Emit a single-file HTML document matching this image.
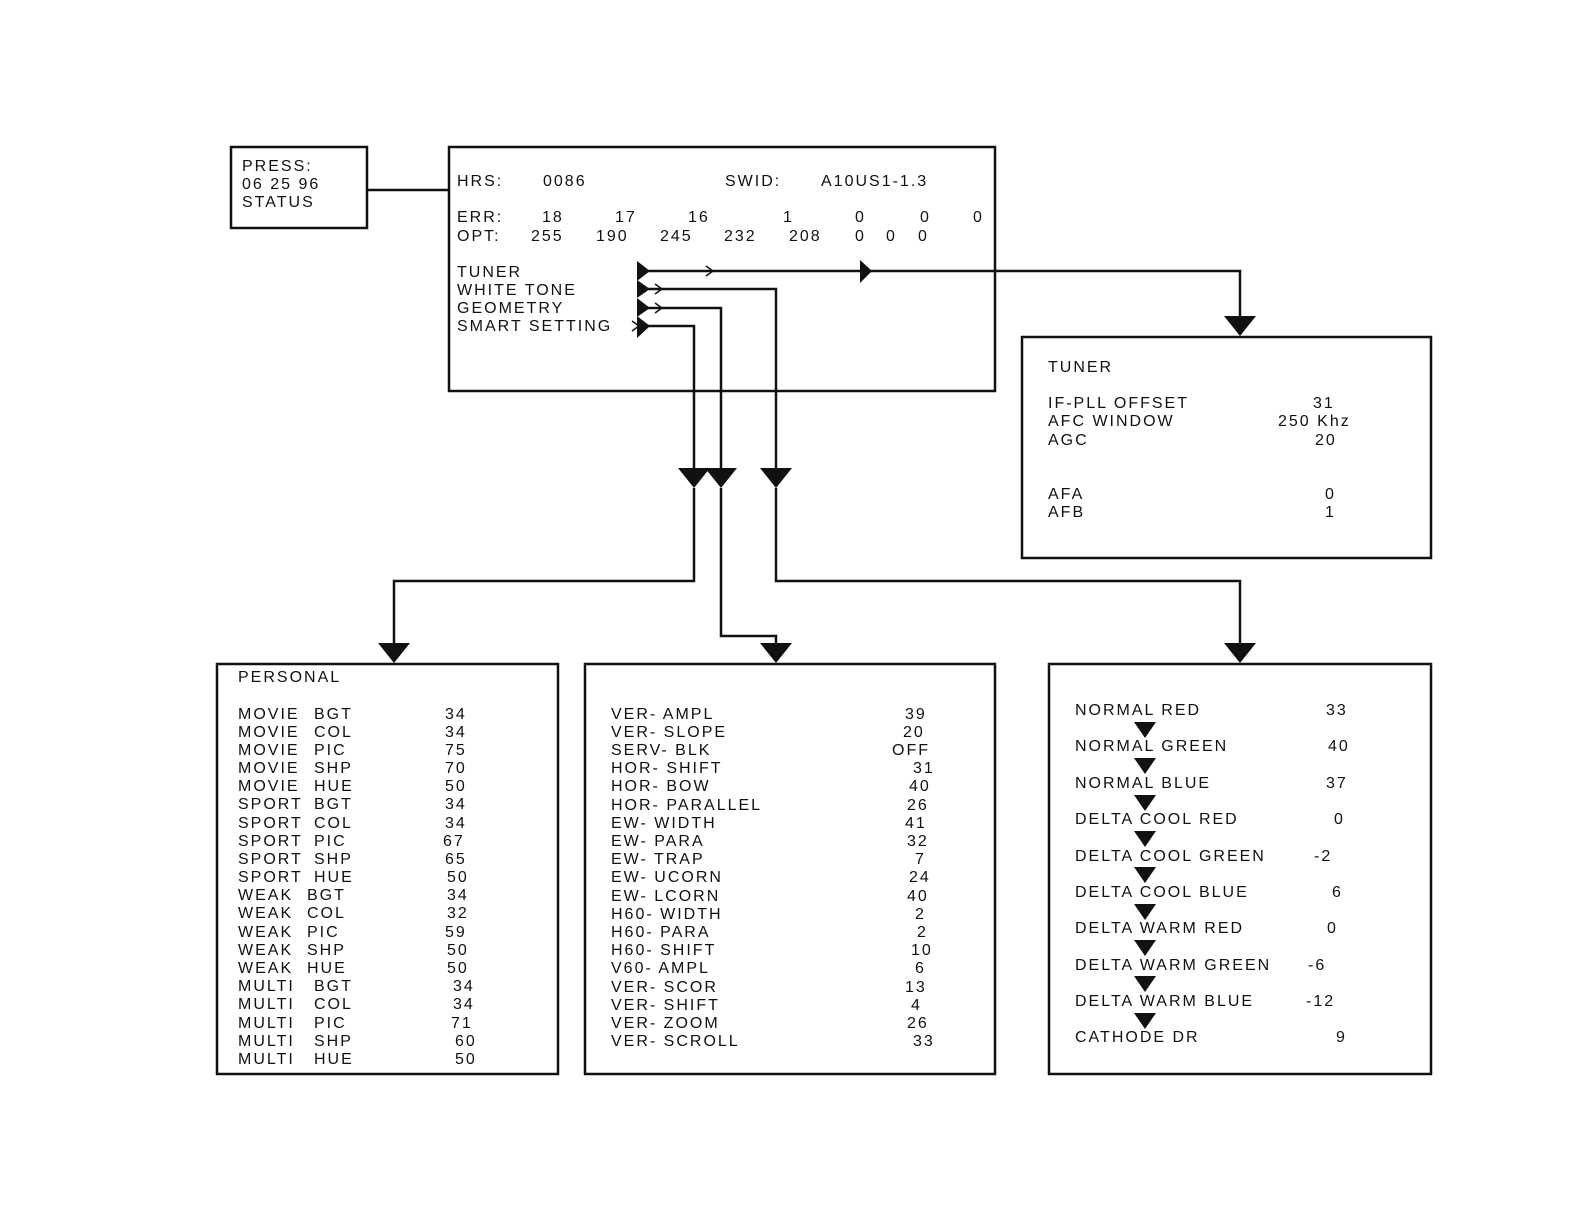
<!DOCTYPE html>
<html><head><meta charset="utf-8"><style>
html,body{margin:0;padding:0;background:#fff;}
svg{display:block;}
text{font-family:"Liberation Sans",sans-serif;font-size:16px;letter-spacing:2px;fill:#111;}
</style></head><body>
<svg width="1584" height="1224" viewBox="0 0 1584 1224" xmlns="http://www.w3.org/2000/svg">
<g fill="none" stroke="#111" stroke-width="2.5">
<rect x="231" y="147" width="136" height="81"/>
<rect x="449" y="147" width="546" height="244"/>
<rect x="1022" y="337" width="409" height="221"/>
<rect x="217" y="664" width="341" height="410"/>
<rect x="585" y="664" width="410" height="410"/>
<rect x="1049" y="664" width="382" height="410"/>
<line x1="367" y1="190" x2="449" y2="190"/>
<polyline points="640,271 1240,271 1240,320"/>
<polyline points="640,289 776,289 776,468"/>
<polyline points="640,308 721,308 721,468"/>
<polyline points="640,326 694,326 694,468"/>
<polyline points="694,488 694,581 394,581 394,645"/>
<polyline points="721,488 721,636 776,636 776,645"/>
<polyline points="776,488 776,581 1240,581 1240,645"/>
<polyline stroke-width="1.5" points="706,266 713,271 706,276"/>
<polyline stroke-width="1.5" points="655,284 662,289 655,294"/>
<polyline stroke-width="1.5" points="655,303 662,308 655,313"/>
<polyline stroke-width="1.5" points="632,321 639,326 632,331"/>
</g>
<g fill="#111">
<polygon points="637,261 650,271 637,281"/>
<polygon points="637,280 650,289 637,298"/>
<polygon points="637,298 650,308 637,317"/>
<polygon points="637,316 650,326 637,338"/>
<polygon points="860,260 872,271 860,283"/>
<polygon points="1224,316 1256,316 1240,336"/>
<polygon points="678,468 710,468 694,488"/>
<polygon points="705,468 737,468 721,488"/>
<polygon points="760,468 792,468 776,488"/>
<polygon points="378,643 410,643 394,663"/>
<polygon points="760,643 792,643 776,663"/>
<polygon points="1224,643 1256,643 1240,663"/>
<polygon points="1134,722 1156,722 1145,738"/>
<polygon points="1134,758 1156,758 1145,774"/>
<polygon points="1134,795 1156,795 1145,811"/>
<polygon points="1134,831 1156,831 1145,847"/>
<polygon points="1134,867 1156,867 1145,883"/>
<polygon points="1134,904 1156,904 1145,920"/>
<polygon points="1134,940 1156,940 1145,956"/>
<polygon points="1134,976 1156,976 1145,992"/>
<polygon points="1134,1013 1156,1013 1145,1029"/>
</g>
<text x="242" y="171">PRESS:</text>
<text x="242" y="189">06 25 96</text>
<text x="242" y="207">STATUS</text>
<text x="457" y="186">HRS:</text><text x="543" y="186">0086</text>
<text x="725" y="186">SWID:</text><text x="821" y="186">A10US1-1.3</text>
<text x="457" y="222">ERR:</text><text x="542" y="222">18</text><text x="615" y="222">17</text><text x="688" y="222">16</text><text x="783" y="222">1</text><text x="855" y="222">0</text><text x="920" y="222">0</text><text x="973" y="222">0</text>
<text x="457" y="241">OPT:</text><text x="531" y="241">255</text><text x="596" y="241">190</text><text x="660" y="241">245</text><text x="724" y="241">232</text><text x="789" y="241">208</text><text x="855" y="241">0</text><text x="886" y="241">0</text><text x="918" y="241">0</text>
<text x="457" y="277">TUNER</text>
<text x="457" y="295">WHITE TONE</text>
<text x="457" y="313">GEOMETRY</text>
<text x="457" y="331">SMART SETTING</text>
<text x="1048" y="372">TUNER</text>
<text x="1048" y="408">IF-PLL  OFFSET</text><text x="1313" y="408">31</text>
<text x="1048" y="426">AFC WINDOW</text><text x="1278" y="426">250 Khz</text>
<text x="1048" y="445">AGC</text><text x="1315" y="445">20</text>
<text x="1048" y="499">AFA</text><text x="1325" y="499">0</text>
<text x="1048" y="517">AFB</text><text x="1325" y="517">1</text>
<text x="238" y="682">PERSONAL</text>
<g>
<text x="238" y="719">MOVIE</text><text x="314" y="719">BGT</text><text x="445" y="719">34</text>
<text x="238" y="737">MOVIE</text><text x="314" y="737">COL</text><text x="445" y="737">34</text>
<text x="238" y="755">MOVIE</text><text x="314" y="755">PIC</text><text x="445" y="755">75</text>
<text x="238" y="773">MOVIE</text><text x="314" y="773">SHP</text><text x="445" y="773">70</text>
<text x="238" y="791">MOVIE</text><text x="314" y="791">HUE</text><text x="445" y="791">50</text>
<text x="238" y="809">SPORT</text><text x="314" y="809">BGT</text><text x="445" y="809">34</text>
<text x="238" y="828">SPORT</text><text x="314" y="828">COL</text><text x="445" y="828">34</text>
<text x="238" y="846">SPORT</text><text x="314" y="846">PIC</text><text x="443" y="846">67</text>
<text x="238" y="864">SPORT</text><text x="314" y="864">SHP</text><text x="445" y="864">65</text>
<text x="238" y="882">SPORT</text><text x="314" y="882">HUE</text><text x="447" y="882">50</text>
<text x="238" y="900">WEAK</text><text x="307" y="900">BGT</text><text x="447" y="900">34</text>
<text x="238" y="918">WEAK</text><text x="307" y="918">COL</text><text x="447" y="918">32</text>
<text x="238" y="937">WEAK</text><text x="307" y="937">PIC</text><text x="445" y="937">59</text>
<text x="238" y="955">WEAK</text><text x="307" y="955">SHP</text><text x="447" y="955">50</text>
<text x="238" y="973">WEAK</text><text x="307" y="973">HUE</text><text x="447" y="973">50</text>
<text x="238" y="991">MULTI</text><text x="314" y="991">BGT</text><text x="453" y="991">34</text>
<text x="238" y="1009">MULTI</text><text x="314" y="1009">COL</text><text x="453" y="1009">34</text>
<text x="238" y="1028">MULTI</text><text x="314" y="1028">PIC</text><text x="451" y="1028">71</text>
<text x="238" y="1046">MULTI</text><text x="314" y="1046">SHP</text><text x="455" y="1046">60</text>
<text x="238" y="1064">MULTI</text><text x="314" y="1064">HUE</text><text x="455" y="1064">50</text>
</g>
<g>
<text x="611" y="719">VER- AMPL</text><text x="905" y="719">39</text>
<text x="611" y="737">VER- SLOPE</text><text x="903" y="737">20</text>
<text x="611" y="755">SERV- BLK</text><text x="892" y="755">OFF</text>
<text x="611" y="773">HOR- SHIFT</text><text x="913" y="773">31</text>
<text x="611" y="791">HOR- BOW</text><text x="909" y="791">40</text>
<text x="611" y="810">HOR- PARALLEL</text><text x="907" y="810">26</text>
<text x="611" y="828">EW- WIDTH</text><text x="905" y="828">41</text>
<text x="611" y="846">EW- PARA</text><text x="907" y="846">32</text>
<text x="611" y="864">EW- TRAP</text><text x="915" y="864">7</text>
<text x="611" y="882">EW- UCORN</text><text x="909" y="882">24</text>
<text x="611" y="901">EW- LCORN</text><text x="907" y="901">40</text>
<text x="611" y="919">H60- WIDTH</text><text x="915" y="919">2</text>
<text x="611" y="937">H60- PARA</text><text x="917" y="937">2</text>
<text x="611" y="955">H60- SHIFT</text><text x="911" y="955">10</text>
<text x="611" y="973">V60- AMPL</text><text x="915" y="973">6</text>
<text x="611" y="992">VER- SCOR</text><text x="905" y="992">13</text>
<text x="611" y="1010">VER- SHIFT</text><text x="911" y="1010">4</text>
<text x="611" y="1028">VER- ZOOM</text><text x="907" y="1028">26</text>
<text x="611" y="1046">VER- SCROLL</text><text x="913" y="1046">33</text>
</g>
<g>
<text x="1075" y="715">NORMAL RED</text><text x="1326" y="715">33</text>
<text x="1075" y="751">NORMAL GREEN</text><text x="1328" y="751">40</text>
<text x="1075" y="788">NORMAL BLUE</text><text x="1326" y="788">37</text>
<text x="1075" y="824">DELTA COOL RED</text><text x="1334" y="824">0</text>
<text x="1075" y="861">DELTA COOL GREEN</text><text x="1314" y="861">-2</text>
<text x="1075" y="897">DELTA COOL BLUE</text><text x="1332" y="897">6</text>
<text x="1075" y="933">DELTA WARM RED</text><text x="1327" y="933">0</text>
<text x="1075" y="970">DELTA WARM GREEN</text><text x="1308" y="970">-6</text>
<text x="1075" y="1006">DELTA WARM BLUE</text><text x="1306" y="1006">-12</text>
<text x="1075" y="1042">CATHODE DR</text><text x="1336" y="1042">9</text>
</g>
</svg>
</body></html>
